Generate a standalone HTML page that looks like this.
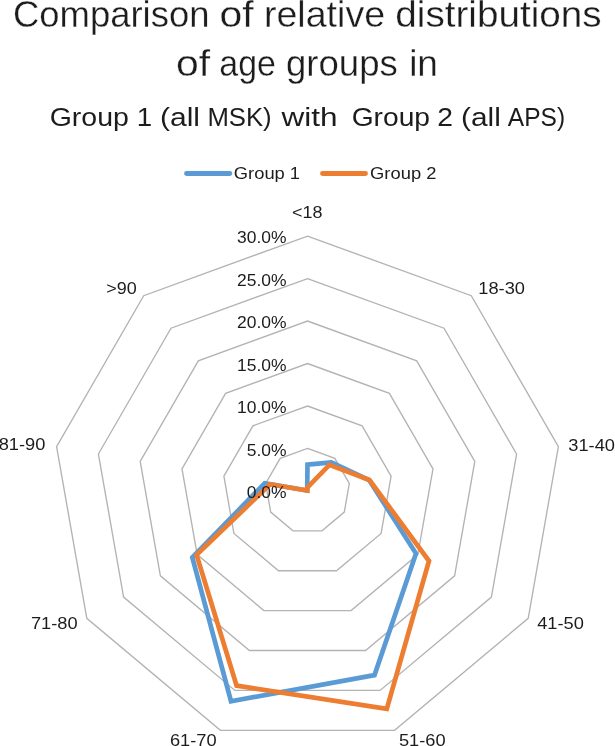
<!DOCTYPE html>
<html><head><meta charset="utf-8"><title>Comparison of relative distributions of age groups</title>
<style>
html,body{margin:0;padding:0;background:#fff;}
body{width:615px;height:746px;overflow:hidden;}
svg{display:block;}
text{font-family:"Liberation Sans",sans-serif;fill:#1c1c1c;}
.t1{font-size:36.3px;stroke:#fff;stroke-width:0.3px;}
.t2{font-size:26px;}
.lb{font-size:16.9px;}
</style></head><body>
<svg width="615" height="746" viewBox="0 0 615 746">
<rect width="615" height="746" fill="#fff"/>
<g fill="none" stroke="#b3b3b3" stroke-width="1.35" stroke-linejoin="miter">
<polygon points="307.5,448.4 334.8,458.4 349.3,483.5 344.3,512.1 322.0,530.8 293.0,530.8 270.7,512.1 265.7,483.5 280.2,458.4"/>
<polygon points="307.5,406.0 362.1,425.8 391.1,476.2 381.1,533.4 336.5,570.7 278.5,570.7 233.9,533.4 223.9,476.2 252.9,425.8"/>
<polygon points="307.5,363.5 389.4,393.3 433.0,468.8 417.8,554.6 351.1,610.6 263.9,610.6 197.2,554.6 182.0,468.8 225.6,393.3"/>
<polygon points="307.5,321.0 416.7,360.8 474.8,461.4 454.6,575.8 365.6,650.5 249.4,650.5 160.4,575.8 140.2,461.4 198.3,360.8"/>
<polygon points="307.5,278.6 444.0,328.2 516.6,454.0 491.4,597.1 380.1,690.4 234.9,690.4 123.6,597.1 98.4,454.0 171.0,328.2"/>
<polygon points="307.5,236.1 471.3,295.7 558.4,446.7 528.2,618.3 394.6,730.3 220.4,730.3 86.8,618.3 56.6,446.7 143.7,295.7"/>
</g>
<g fill="none" stroke-width="4.7" stroke-linejoin="miter" stroke-miterlimit="10">
<polygon points="307.5,464.6 331.4,462.4 369.1,480.0 416.0,553.5 374.5,675.1 231.0,701.2 192.3,557.4 264.7,483.3 307.2,490.5" stroke="#5b9bd5"/>
<polygon points="307.5,487.4 329.4,464.9 369.5,480.0 429.0,561.0 386.8,708.9 236.6,685.6 196.6,554.9 270.1,484.3 307.2,490.5" stroke="#ed7d31"/>
</g>
<g fill="none" stroke-width="4.8" stroke-linecap="round">
<line x1="186.5" y1="173.5" x2="229.8" y2="173.5" stroke="#5b9bd5"/>
<line x1="322.5" y1="173.5" x2="365.5" y2="173.5" stroke="#ed7d31"/>
</g>
<g class="t1">
<text transform="translate(12.99,26.6) scale(1.0042,1)">Comparison</text>
<text transform="translate(219.58,26.6) scale(1.1243,1)">of</text>
<text transform="translate(263.93,26.6) scale(1.0355,1)">relative</text>
<text transform="translate(395.33,26.6) scale(1.0647,1)">distributions</text>
<text transform="translate(176.05,76.0) scale(1.1243,1)">of</text>
<text transform="translate(219.31,76.0) scale(0.9353,1)">age</text>
<text transform="translate(285.99,76.0) scale(1.0074,1)">groups</text>
<text transform="translate(409.16,76.0) scale(1.0176,1)">in</text>
</g>
<g class="t2">
<text transform="translate(49.70,126.3) scale(1.0960,1)">Group</text>
<text transform="translate(136.83,126.3) scale(1.0636,1)">1</text>
<text transform="translate(159.98,126.3) scale(1.1550,1)">(all</text>
<text transform="translate(207.38,126.3) scale(0.9890,1)">MSK)</text>
<text transform="translate(281.42,126.3) scale(1.2149,1)">with</text>
<text transform="translate(351.65,126.3) scale(1.0847,1)">Group</text>
<text transform="translate(437.30,126.3) scale(1.0872,1)">2</text>
<text transform="translate(460.99,126.3) scale(1.1485,1)">(all</text>
<text transform="translate(507.81,126.3) scale(0.9437,1)">APS)</text>
</g>
<g class="lb">
<text transform="translate(233.80,178.8) scale(1.0868,1)">Group 1</text>
<text transform="translate(370.10,178.8) scale(1.0868,1)">Group 2</text>
<text transform="translate(291.97,218.4) scale(1.0616,1)">&lt;18</text>
<text transform="translate(478.31,293.6) scale(1.0800,1)">18-30</text>
<text transform="translate(568.32,450.6) scale(1.0800,1)">31-40</text>
<text transform="translate(537.20,629.1) scale(1.0800,1)">41-50</text>
<text transform="translate(398.96,745.7) scale(1.0800,1)">51-60</text>
<text transform="translate(169.96,746.2) scale(1.0800,1)">61-70</text>
<text transform="translate(30.92,629.3) scale(1.0800,1)">71-80</text>
<text transform="translate(-1.30,450.4) scale(1.0800,1)">81-90</text>
<text transform="translate(106.18,294.0) scale(1.0646,1)">&gt;90</text>
<text transform="translate(237.00,243.0) scale(1.0350,1)">30.0%</text>
<text transform="translate(237.00,285.5) scale(1.0350,1)">25.0%</text>
<text transform="translate(237.00,328.0) scale(1.0350,1)">20.0%</text>
<text transform="translate(237.00,370.5) scale(1.0350,1)">15.0%</text>
<text transform="translate(237.00,413.0) scale(1.0350,1)">10.0%</text>
<text transform="translate(246.75,455.5) scale(1.0350,1)">5.0%</text>
<text transform="translate(246.75,498.0) scale(1.0350,1)">0.0%</text>
</g>
</svg>
</body></html>
